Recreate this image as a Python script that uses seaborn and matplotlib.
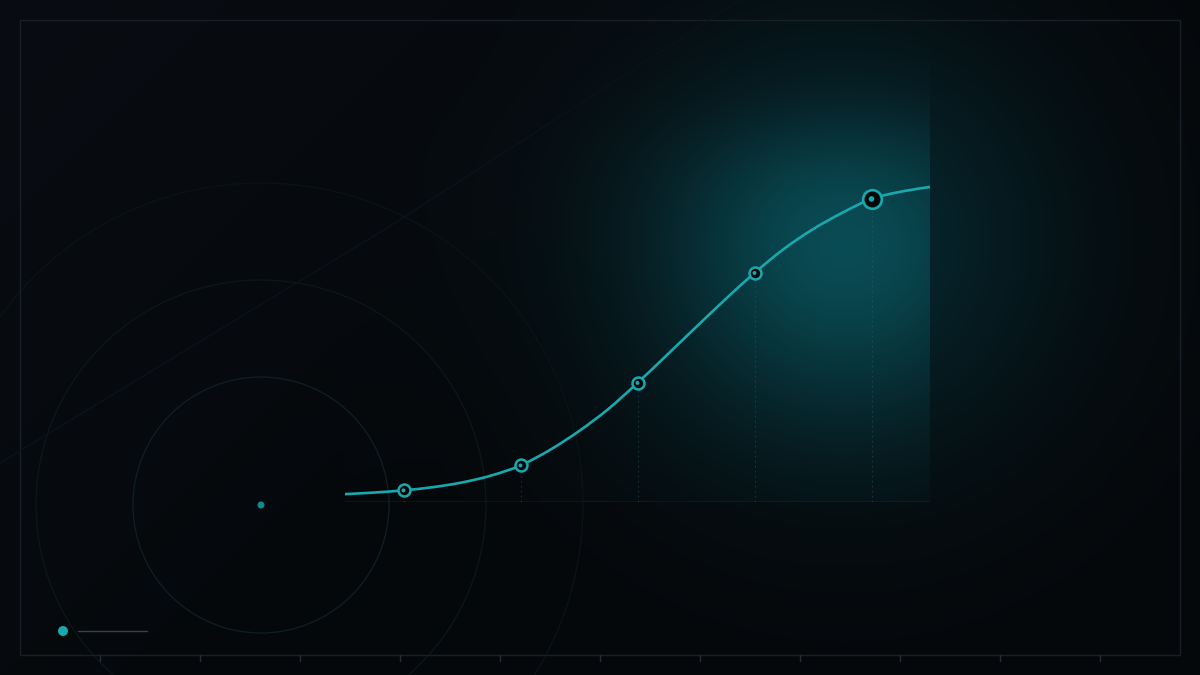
import matplotlib.pyplot as plt
import numpy as np
import pandas as pd
import seaborn as sns
from matplotlib.patches import Circle, PathPatch, Rectangle
from matplotlib.path import Path

# %% Data (values in % of the final level)
curve_x = [-0.5, -0.25, 0.0, 0.25, 0.5, 0.75, 1.0, 1.25, 1.5, 1.75, 2.0,
           2.25, 2.5, 2.75, 3.0, 3.25, 3.5, 3.75, 4.0, 4.25, 4.5]
curve_y = [2.5, 3.0, 3.7, 4.7, 6.2, 8.4, 11.6, 16.5, 22.5, 29.5, 37.8,
           46.6, 55.5, 64.3, 72.7, 80.3, 86.6, 91.8, 96.2, 98.5, 100.0]
stage_x = [0, 1, 2, 3, 4]
stage_y = [3.7, 11.6, 37.8, 72.7, 96.2]

curve = pd.DataFrame({"x": curve_x, "y": curve_y})
stages = pd.DataFrame({"x": stage_x, "y": stage_y})

# %% Style
TEAL = "#19a8ad"
DARK = "#03080b"
W, H = 1200, 675

sns.set_theme(style="dark", rc={"axes.facecolor": "none",
                                "figure.facecolor": "#06090d"})
fig = plt.figure(figsize=(12, 6.75), dpi=100)

# %% Background: dark base with a teal glow
bg = fig.add_axes([0, 0, 1, 1])
yy, xx = np.mgrid[0:H, 0:W] + 0.5
img = np.ones((H, W, 3)) * np.array([5, 8, 11], float)
img += np.array([4, 5, 8]) * np.clip(1 - (xx + yy) / 900, 0, 1)[..., None]
r2 = (xx - 845) ** 2 + (yy - 240) ** 2
img += np.array([1, 32, 36]) * np.exp(-r2 / (2 * 150**2))[..., None]
# the plot area itself is lit a bit more (soft top edge)
inside = ((xx >= 345) & (xx <= 930) & (yy <= 502)) / (1 + np.exp(-(yy - 120) / 30))
lit = np.exp(-r2 / (2 * 120**2)) * 32 + np.exp(-r2 / (2 * 240**2)) * 4
img += np.array([0.1, 1.0, 1.05]) * (lit * inside)[..., None]
bg.imshow(np.clip(img / 255, 0, 1), extent=(0, W, H, 0), aspect="auto")
bg.set_xlim(0, W)
bg.set_ylim(H, 0)
bg.axis("off")

# decorative rings
for r, c in [(128, "#0f2024"), (225, "#0c171a"), (322, "#0b1316")]:
    bg.add_patch(Circle((261, 505), r, fill=False, ec=c, lw=0.9))
bg.add_patch(Circle((261, 505), 3.5, color="#12898e", lw=0))
bg.plot([0, 387, 663, 740], [463, 228, 50, 0], color="#0c1318", lw=0.9)

# frame and ticks
bg.add_patch(Rectangle((20, 20), 1160, 635, fill=False, ec="#1a1f26", lw=1))
for tx in range(100, 1200, 100):
    bg.plot([tx, tx], [655, 661], color="#272d34", lw=1)

# legend key
bg.add_patch(Circle((63, 631), 5, color=TEAL, lw=0))
bg.plot([78, 147], [631, 631], color="#3d4248", lw=1)

# %% Main chart
ax = fig.add_axes([345 / W, 1 - 502 / H, 585 / W, (502 - 60) / H])
ax.set_xlim(-0.5, 4.5)
ax.set_ylim(0, 140.3)

ax.axhline(0, color="#3b4149", lw=1)
ax.vlines(stage_x, 0, stage_y, colors="#2f6a6e", linestyles=(0, (1.5, 3)),
          lw=0.8, alpha=0.4)

# smooth line through the read points (Catmull-Rom as cubic Bezier)
pts = curve[["x", "y"]].to_numpy()
ext = np.vstack([pts[0], pts, pts[-1]])
verts = [pts[0]]
for i in range(1, len(ext) - 2):
    p0, p1, p2, p3 = ext[i - 1], ext[i], ext[i + 1], ext[i + 2]
    verts += [p1 + (p2 - p0) / 6, p2 - (p3 - p1) / 6, p2]
codes = [Path.MOVETO] + [Path.CURVE4] * (len(verts) - 1)
ax.add_patch(PathPatch(Path(verts, codes), fill=False, ec=TEAL, lw=1.9,
                       capstyle="round", zorder=4))

small = stages.iloc[:-1]
last = stages.iloc[-1:]
sns.scatterplot(data=small, x="x", y="y", ax=ax, s=74, color=DARK,
                edgecolor=TEAL, linewidth=1.8, zorder=5)
sns.scatterplot(data=small, x="x", y="y", ax=ax, s=8, color=TEAL,
                edgecolor="none", zorder=6)
sns.scatterplot(data=last, x="x", y="y", ax=ax, s=180, color=DARK,
                edgecolor=TEAL, linewidth=1.9, zorder=5)
sns.scatterplot(data=last, x="x", y="y", ax=ax, s=16, color=TEAL,
                edgecolor="none", zorder=6)

ax.set_xlabel("")
ax.set_ylabel("")
ax.set_xticks([])
ax.set_yticks([])
ax.grid(False)
for s in ax.spines.values():
    s.set_visible(False)

fig.savefig("out.png", dpi=100, facecolor=fig.get_facecolor())
